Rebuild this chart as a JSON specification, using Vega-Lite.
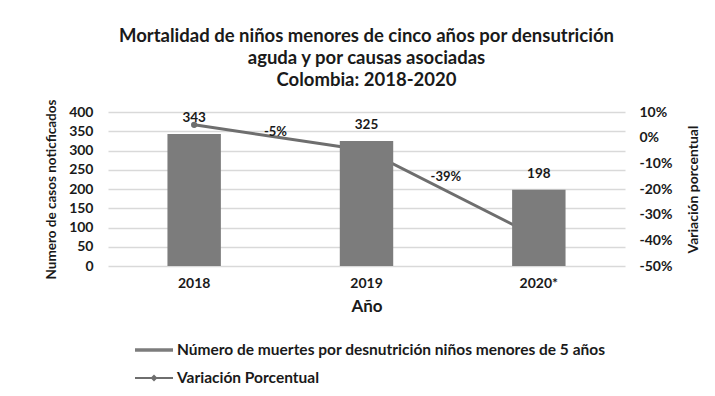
{
  "$schema": "https://vega.github.io/schema/vega-lite/v6.json",
  "width": 517,
  "height": 154,
  "autosize": {"type": "none"},
  "padding": {"left": 108, "top": 112, "right": 90, "bottom": 130},
  "background": "white",
  "title": {
    "text": ["Mortalidad de niños menores de cinco años por densutrición", "aguda y por causas asociadas", "Colombia: 2018-2020"],
    "font": "Lato",
    "fontSize": 18.5,
    "fontWeight": "bold",
    "color": "#1a1a1a",
    "anchor": "middle",
    "lineHeight": 22,
    "offset": 10
  },
  "data": {
    "values": [
      {"anio": "2018", "muertes": 343, "variacion": 0.05, "etiqueta": ""},
      {"anio": "2019", "muertes": 325, "variacion": -0.05, "etiqueta": "-5%"},
      {"anio": "2020*", "muertes": 198, "variacion": -0.39, "etiqueta": "-39%"}
    ]
  },
  "encoding": {
    "x": {
      "field": "anio",
      "type": "ordinal",
      "title": "Año",
      "scale": {"paddingInner": 0.69, "paddingOuter": 0.345}
    }
  },
  "layer": [
    {
      "layer": [
        {
          "mark": {"type": "line", "strokeWidth": 3},
          "encoding": {
            "y": {
              "field": "variacion",
              "type": "quantitative",
              "scale": {"domain": [-0.5, 0.1], "nice": false},
              "axis": {
                "orient": "right",
                "values": [-0.5, -0.4, -0.3, -0.2, -0.1, 0, 0.1],
                "tickCount": 7,
                "format": ".0%",
                "labelExpr": "replace(datum.label, '−', '-')",
                "grid": false,
                "labelAlign": "left",
                "labelPadding": 14,
                "labelOverlap": false,
                "title": "Variación porcentual",
                "titleFontSize": 14,
                "titleAngle": 270,
                "titlePadding": 29
              }
            },
            "color": {
              "datum": "Variación Porcentual",
              "scale": {"domain": ["Número de muertes por desnutrición niños menores de 5 años", "Variación Porcentual"], "range": ["#7c7c7c", "#6e6e6e"]},
              "legend": {
                "encode": {
                  "symbols": {
                    "update": {
                      "shape": {"signal": "datum.value === 'Variación Porcentual' ? 'M-1,-0.05H-0.13L0,-0.18L0.13,-0.05H1V0.05H0.13L0,0.18L-0.13,0.05H-1Z' : 'M-1,-0.09H1V0.09H-1Z'"}
                    }
                  }
                }
              }
            }
          }
        },
        {
          "mark": {"type": "point", "filled": true, "size": 40, "opacity": 1},
          "encoding": {
            "y": {"field": "variacion", "type": "quantitative"},
            "color": {"datum": "Variación Porcentual"}
          }
        }
      ]
    },
    {
      "layer": [
        {
          "mark": {"type": "bar"},
          "encoding": {
            "y": {
              "field": "muertes",
              "type": "quantitative",
              "scale": {"domain": [0, 400], "nice": false},
              "axis": {
                "orient": "left",
                "values": [0, 50, 100, 150, 200, 250, 300, 350, 400],
                "tickCount": 9,
                "grid": true,
                "labelPadding": 15,
                "labelOverlap": false,
                "title": "Numero de casos noticficados",
                "titlePadding": 10
              }
            },
            "color": {"datum": "Número de muertes por desnutrición niños menores de 5 años"}
          }
        },
        {
          "mark": {"type": "text", "dy": -16, "font": "Lato", "fontWeight": "bold", "fontSize": 13.5, "color": "#1a1a1a"},
          "encoding": {
            "y": {"field": "muertes", "type": "quantitative"},
            "text": {"field": "muertes", "type": "quantitative"}
          }
        }
      ]
    },
    {
      "transform": [{"filter": "datum.anio === '2019'"}],
      "mark": {"type": "text", "dx": -91, "dy": -19, "font": "Lato", "fontWeight": "bold", "fontSize": 13, "color": "#1a1a1a"},
      "encoding": {
        "y": {"field": "variacion", "type": "quantitative", "scale": {"domain": [-0.5, 0.1], "nice": false}, "axis": null},
        "text": {"field": "etiqueta"}
      }
    },
    {
      "transform": [{"filter": "datum.anio === '2020*'"}],
      "mark": {"type": "text", "dx": -93, "dy": -61, "font": "Lato", "fontWeight": "bold", "fontSize": 13, "color": "#1a1a1a"},
      "encoding": {
        "y": {"field": "variacion", "type": "quantitative", "scale": {"domain": [-0.5, 0.1], "nice": false}, "axis": null},
        "text": {"field": "etiqueta"}
      }
    }
  ],
  "resolve": {"scale": {"y": "independent"}},
  "config": {
    "view": {"stroke": null},
    "font": "Lato",
    "axis": {
      "labelFont": "Lato",
      "labelFontWeight": "bold",
      "labelFontSize": 14,
      "labelColor": "#1a1a1a",
      "labelOverlap": false,
      "titleFont": "Lato",
      "titleFontWeight": "bold",
      "titleFontSize": 13.5,
      "titleColor": "#1a1a1a",
      "ticks": false,
      "domain": false,
      "gridColor": "#d9d9d9",
      "gridWidth": 1.5
    },
    "axisX": {"labelAngle": 0, "labelPadding": 10, "titlePadding": 8, "titleFontSize": 17, "grid": false},
    "legend": {
      "orient": "none",
      "legendX": 27,
      "legendY": 219,
      "direction": "vertical",
      "title": null,
      "labelFont": "Lato",
      "labelFontWeight": "bold",
      "labelFontSize": 15.5,
      "labelColor": "#1a1a1a",
      "labelLimit": 0,
      "symbolSize": 1444,
      "symbolStrokeWidth": 0,
      "rowPadding": -14,
      "padding": 0
    }
  }
}
